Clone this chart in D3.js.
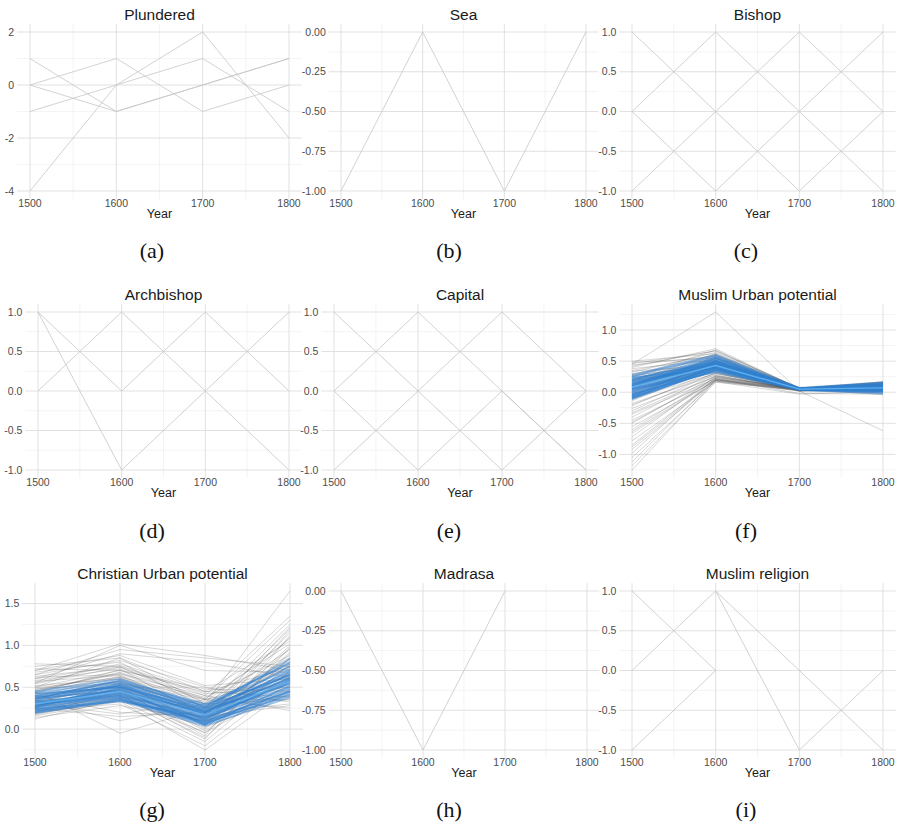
<!DOCTYPE html>
<head>
  <meta charset="utf-8">
  <style>
    body { margin: 0; background: #fff; }
    svg { font-family: "Liberation Sans", Arial, Helvetica, sans-serif; background: #fff; }
    .grid-major { stroke: #d9d9d9; stroke-width: 0.8px; }
    .grid-minor { stroke: #ededed; stroke-width: 0.6px; }
    .tick { fill: #4d4d4d; font-size: 10.5px; }
    .title { fill: #1a1a1a; font-size: 15.5px; }
    .xtitle { fill: #1a1a1a; font-size: 12.5px; }
    .caption { font-family: "Liberation Serif", "DejaVu Serif", serif; font-size: 22px; fill: #111; }
    .simple { fill: none; stroke: #c6c6c6; stroke-width: 0.8px; }
    .grey { fill: none; stroke: #404040; stroke-opacity: 0.36; stroke-width: 0.6px; }
    .blue { fill: none; stroke: #2f7fcf; stroke-opacity: 0.5; stroke-width: 1.8px; }
    .mean { fill: none; stroke: #62b3f0; stroke-opacity: 0.9; stroke-width: 1.4px; }
  </style>
</head>

<body>
  <svg width="901" height="831"></svg>
  <script src="https://d3js.org/d3.v7.min.js"></script>
  <script type="text/javascript">
  // x values shared by every panel
  const years = [1500, 1600, 1700, 1800];

  // one row per line, values at 1500,1600,1700,1800 (null = no value)
  const plundered = [
    [1, -1, 0, 1],
    [0, 1, -1, 0],
    [0, -1, 0, 1],
    [-1, 0, 1, -1],
    [-4, 0, 2, -2]
  ];
  const sea = [[-1, 0, -1, 0]];
  const bishop = [[1, 0, 1, 0], [0, 1, 0, -1], [0, -1, 0, 1], [-1, 0, -1, 0]];
  const archbishop = [[0, 1, 0, 1], [1, 0, 1, 0], [1, -1, 0, -1]];
  const capital = [[1, 0, 1, 0], [0, 1, 0, -1], [0, -1, 0, -1], [-1, 0, -1, 0]];
  const madrasa = [[0, -1, 0, null]];
  const muslimReligion = [[0, 1, 0, -1], [null, 1, -1, 0], [1, 0, null, null], [-1, 0, null, null]];

  const muslimUrbanGrey = [
    [0.50, 0.62, 0.06, 0.10], [0.48, 0.55, 0.05, 0.12], [0.46, 0.66, 0.07, 0.15],
    [0.44, 0.58, 0.04, 0.08], [0.40, 0.70, 0.06, 0.17], [0.38, 0.52, 0.05, 0.03],
    [0.35, 0.60, 0.03, 0.11], [0.32, 0.64, 0.07, 0.06], [0.30, 0.48, 0.04, 0.14],
    [0.28, 0.56, 0.06, -0.02], [0.26, 0.45, 0.02, 0.09], [0.24, 0.68, 0.05, 0.13],
    [0.22, 0.50, 0.08, 0.01], [0.20, 0.42, 0.03, 0.16], [0.18, 0.62, 0.06, 0.05],
    [0.15, 0.38, 0.04, 0.12], [0.12, 0.54, 0.05, -0.04], [0.10, 0.47, 0.07, 0.10],
    [0.08, 0.36, 0.02, 0.07], [0.05, 0.58, 0.06, 0.15], [0.02, 0.44, 0.04, 0.02],
    [0.00, 0.40, 0.05, 0.11], [-0.03, 0.33, 0.03, 0.06], [-0.06, 0.50, 0.06, 0.14],
    [-0.10, 0.30, 0.04, 0.00], [-0.14, 0.42, 0.05, 0.09], [-0.18, 0.28, 0.02, 0.12],
    [-0.22, 0.36, 0.06, 0.04], [-0.26, 0.25, 0.04, 0.17], [-0.30, 0.32, 0.05, 0.08],
    [-0.35, 0.22, -0.02, -0.03], [-0.40, 0.30, 0.06, 0.13], [-0.45, 0.20, 0.04, 0.05],
    [-0.50, 0.27, 0.05, 0.10], [-0.55, 0.18, 0.02, 0.02], [-0.60, 0.24, 0.06, 0.15],
    [-0.66, 0.20, 0.04, 0.07], [-0.72, 0.26, 0.05, 0.12], [-0.78, 0.17, -0.03, 0.01],
    [-0.85, 0.22, 0.05, 0.09], [-0.92, 0.19, 0.04, 0.14], [-0.98, 0.24, 0.06, 0.04],
    [-1.05, 0.18, 0.03, 0.11], [-1.12, 0.21, 0.05, 0.06], [-1.18, 0.16, 0.04, 0.13],
    [-1.25, 0.19, 0.02, 0.03], [0.45, 1.29, 0.02, -0.62],
    [0.27, 0.44, 0.05, 0.07], [0.17, 0.51, 0.06, 0.12], [0.06, 0.39, 0.04, 0.09],
    [-0.02, 0.47, 0.05, 0.04], [-0.08, 0.35, 0.03, 0.10], [0.13, 0.60, 0.07, 0.16],
    [0.21, 0.33, 0.04, 0.02], [-0.12, 0.55, 0.06, 0.08], [0.34, 0.43, 0.05, 0.13],
    [-0.20, 0.31, 0.03, 0.05], [-0.33, 0.26, 0.05, 0.10], [-0.48, 0.23, 0.04, 0.08],
    [-0.63, 0.21, 0.05, 0.12], [-0.88, 0.20, 0.03, 0.06], [0.42, 0.67, 0.06, 0.09]
  ];
  const muslimUrbanBlue = [
    [0.05, 0.45, 0.05, 0.06], [0.10, 0.50, 0.06, 0.10], [-0.05, 0.40, 0.04, 0.02],
    [0.20, 0.55, 0.05, 0.12], [-0.10, 0.38, 0.05, 0.04], [0.15, 0.48, 0.06, 0.08],
    [0.00, 0.42, 0.05, 0.05], [0.25, 0.58, 0.06, 0.14], [-0.08, 0.35, 0.04, 0.00],
    [0.08, 0.46, 0.05, 0.09], [0.12, 0.52, 0.06, 0.11], [-0.02, 0.44, 0.05, 0.03],
    [0.18, 0.40, 0.04, 0.07], [0.03, 0.36, 0.05, 0.13], [0.22, 0.47, 0.06, 0.06],
    [-0.06, 0.50, 0.05, 0.10], [0.28, 0.60, 0.07, 0.16], [0.06, 0.32, 0.04, -0.02],
    [0.14, 0.43, 0.05, 0.04], [-0.04, 0.39, 0.06, 0.08], [0.09, 0.54, 0.05, 0.12],
    [0.17, 0.45, 0.04, 0.01], [0.01, 0.48, 0.06, 0.09], [0.24, 0.37, 0.05, 0.05],
    [-0.09, 0.42, 0.05, 0.07], [0.11, 0.56, 0.06, 0.15], [0.04, 0.41, 0.04, 0.03],
    [0.19, 0.51, 0.05, 0.10], [-0.03, 0.34, 0.05, 0.06], [0.07, 0.49, 0.06, 0.11],
    [-0.11, 0.37, 0.05, 0.02], [-0.07, 0.41, 0.04, 0.05], [0.13, 0.46, 0.06, 0.09]
  ];
  const muslimUrbanMean = [[0.08, 0.43, 0.05, 0.07]];

  const christianUrbanGrey = [
    [0.75, 0.85, 0.30, 1.65], [0.70, 1.02, 0.88, 0.70], [0.65, 0.95, 0.85, 0.75],
    [0.60, 0.90, 0.80, 0.62], [0.55, 1.00, 0.70, 0.68], [0.78, 0.75, 0.40, 1.35],
    [0.72, 0.70, 0.35, 1.30], [0.68, 0.80, 0.25, 1.25], [0.62, 0.65, 0.20, 1.20],
    [0.58, 0.72, 0.15, 1.15], [0.52, 0.60, 0.10, 1.10], [0.50, 0.85, 0.45, 1.05],
    [0.48, 0.55, 0.05, 1.00], [0.45, 0.68, 0.30, 0.95], [0.42, 0.50, 0.00, 0.92],
    [0.40, 0.62, 0.38, 0.88], [0.38, 0.45, -0.05, 0.85], [0.36, 0.58, 0.22, 0.82],
    [0.34, 0.40, -0.10, 0.78], [0.32, 0.52, 0.28, 0.75], [0.30, 0.48, 0.12, 0.72],
    [0.28, 0.35, -0.15, 0.70], [0.26, 0.44, 0.18, 0.66], [0.24, 0.55, 0.35, 0.62],
    [0.22, 0.30, -0.20, 0.58], [0.20, 0.42, 0.08, 0.55], [0.18, 0.38, 0.25, 0.52],
    [0.16, 0.33, -0.25, 0.48], [0.14, 0.28, 0.10, 0.45], [0.12, 0.36, 0.02, 0.42],
    [0.45, -0.05, 0.25, 0.40], [0.35, 0.10, 0.30, 0.35], [0.25, 0.15, 0.20, 0.30],
    [0.40, 0.20, 0.15, 0.28], [0.30, 0.18, 0.35, 0.25], [0.55, 0.78, 0.45, 0.38],
    [0.65, 0.82, 0.50, 0.32], [0.50, 0.70, 0.48, 0.45], [0.60, 0.76, 0.42, 0.50],
    [0.46, 0.66, 0.40, 0.22], [0.36, 0.60, 0.36, 0.35], [0.70, 0.88, 0.52, 0.60],
    [0.28, 0.46, -0.08, 1.12], [0.33, 0.52, 0.06, 1.18], [0.44, 0.63, 0.16, 1.22],
    [0.21, 0.41, -0.12, 0.98], [0.54, 0.74, 0.32, 1.08], [0.39, 0.57, 0.04, 0.90],
    [0.19, 0.34, 0.14, 0.80], [0.47, 0.67, 0.26, 0.86], [0.27, 0.50, -0.02, 0.64],
    [0.57, 0.64, 0.20, 0.76], [0.23, 0.39, 0.08, 0.68], [0.31, 0.56, 0.30, 0.56],
    [0.43, 0.71, 0.44, 0.74], [0.37, 0.53, 0.10, 0.84], [0.29, 0.47, 0.21, 0.60],
    [0.49, 0.62, 0.12, 0.96], [0.17, 0.37, -0.04, 0.50], [0.63, 0.74, 0.36, 1.02]
  ];
  const christianUrbanBlue = [
    [0.25, 0.40, 0.15, 0.55], [0.30, 0.45, 0.20, 0.60], [0.35, 0.50, 0.25, 0.65],
    [0.20, 0.35, 0.10, 0.45], [0.40, 0.55, 0.28, 0.72], [0.28, 0.48, 0.18, 0.50],
    [0.33, 0.42, 0.12, 0.58], [0.22, 0.38, 0.08, 0.40], [0.38, 0.52, 0.22, 0.68],
    [0.26, 0.44, 0.16, 0.62], [0.31, 0.47, 0.05, 0.52], [0.36, 0.58, 0.30, 0.78],
    [0.24, 0.33, 0.14, 0.48], [0.42, 0.50, 0.20, 0.75], [0.29, 0.41, 0.11, 0.57],
    [0.34, 0.54, 0.26, 0.64], [0.21, 0.36, 0.06, 0.42], [0.37, 0.46, 0.19, 0.70],
    [0.27, 0.49, 0.23, 0.54], [0.32, 0.39, 0.09, 0.46], [0.45, 0.60, 0.27, 0.80],
    [0.23, 0.43, 0.13, 0.59], [0.39, 0.51, 0.17, 0.66], [0.30, 0.37, 0.07, 0.44],
    [0.26, 0.53, 0.21, 0.61], [0.19, 0.34, 0.04, 0.38], [0.43, 0.57, 0.24, 0.84]
  ];
  const christianUrbanMean = [[0.30, 0.45, 0.17, 0.57]];

  const titles = ["Plundered", "Sea", "Bishop", "Archbishop", "Capital",
    "Muslim Urban potential", "Christian Urban potential", "Madrasa", "Muslim religion"];
  const captions = ["(a)", "(b)", "(c)", "(d)", "(e)", "(f)", "(g)", "(h)", "(i)"];
  const yTicks = [
    [-4, -2, 0, 2],
    [-1, -0.75, -0.5, -0.25, 0],
    [-1, -0.5, 0, 0.5, 1],
    [-1, -0.5, 0, 0.5, 1],
    [-1, -0.5, 0, 0.5, 1],
    [-1, -0.5, 0, 0.5, 1],
    [0, 0.5, 1, 1.5],
    [-1, -0.75, -0.5, -0.25, 0],
    [-1, -0.5, 0, 0.5, 1]
  ];
  const yFormats = ["d", ".2f", ".1f", ".1f", ".1f", ".1f", ".1f", ".2f", ".1f"];

  // which series each panel draws, and how
  const layers = [
    [[plundered, "simple"]],
    [[sea, "simple"]],
    [[bishop, "simple"]],
    [[archbishop, "simple"]],
    [[capital, "simple"]],
    [[muslimUrbanGrey, "grey"], [muslimUrbanBlue, "blue"], [muslimUrbanMean, "mean"]],
    [[christianUrbanGrey, "grey"], [christianUrbanBlue, "blue"], [christianUrbanMean, "mean"]],
    [[madrasa, "simple"]],
    [[muslimReligion, "simple"]]
  ];

  // pixel box of the data range of each panel: [left, right, top, bottom]
  const boxes = [
    [30, 289, 32, 191], [341, 586, 32, 191], [632, 883, 32, 191],
    [38, 289, 312, 470], [334, 586, 312, 470], [632, 883, 312, 470],
    [35, 290, 591, 750], [341, 587, 591, 750], [632, 883, 591, 750]
  ];
  const captionX = [152, 449, 746];

  let svg = d3.select('svg');

  titles.forEach(function(title, i) {
    let b = boxes[i];
    let g = svg.append('g').classed('panel', true);

    let x = d3.scaleLinear().domain([1500, 1800]).range([b[0], b[1]]);
    let allValues = [];
    layers[i].forEach(function(l) {
      l[0].forEach(function(row) { row.forEach(function(v) { if (v != null) allValues.push(v); }); });
    });
    let ext = d3.extent(allValues);
    let y = d3.scaleLinear().domain(ext).range([b[3], b[2]]);
    let span = ext[1] - ext[0];
    let pLeft = x(1485), pRight = x(1815);
    let pTop = y(ext[1] + span * 0.05), pBottom = y(ext[0] - span * 0.05);

    // grid
    let ticks = yTicks[i];
    let step = ticks[1] - ticks[0];
    let minorY = [];
    for (let k = -1; k < ticks.length; k++) {
      let v = ticks[0] + step * k + step / 2;
      if (v >= y.invert(pBottom) && v <= y.invert(pTop)) minorY.push(v);
    }
    g.selectAll('.my').data(minorY).enter().append('line')
      .attr('class', 'grid-minor')
      .attr('x1', pLeft).attr('x2', pRight)
      .attr('y1', function(d) { return y(d); }).attr('y2', function(d) { return y(d); });
    g.selectAll('.mx').data([1550, 1650, 1750]).enter().append('line')
      .attr('class', 'grid-minor')
      .attr('y1', pTop).attr('y2', pBottom)
      .attr('x1', function(d) { return x(d); }).attr('x2', function(d) { return x(d); });
    g.selectAll('.gy').data(ticks).enter().append('line')
      .attr('class', 'grid-major')
      .attr('x1', pLeft).attr('x2', pRight)
      .attr('y1', function(d) { return y(d); }).attr('y2', function(d) { return y(d); });
    g.selectAll('.gx').data(years).enter().append('line')
      .attr('class', 'grid-major')
      .attr('y1', pTop).attr('y2', pBottom)
      .attr('x1', function(d) { return x(d); }).attr('x2', function(d) { return x(d); });

    // lines
    let line = d3.line()
      .defined(function(d) { return d != null; })
      .x(function(d, j) { return x(years[j]); })
      .y(function(d) { return y(d); });
    layers[i].forEach(function(l) {
      g.append('g').selectAll('path').data(l[0]).enter().append('path')
        .attr('class', l[1])
        .attr('d', line);
    });

    // axis labels
    let fmt = d3.format(yFormats[i]);
    g.selectAll('.yl').data(ticks).enter().append('text')
      .attr('class', 'tick')
      .attr('x', pLeft - 3)
      .attr('y', function(d) { return y(d); })
      .attr('dy', '0.35em')
      .attr('text-anchor', 'end')
      .text(function(d) { return fmt(d).replace('−', '-'); });
    g.selectAll('.xl').data(years).enter().append('text')
      .attr('class', 'tick')
      .attr('x', function(d) { return x(d); })
      .attr('y', b[3] + 16)
      .attr('text-anchor', 'middle')
      .text(function(d) { return d; });
    g.append('text').attr('class', 'xtitle')
      .attr('x', (pLeft + pRight) / 2).attr('y', b[3] + 27)
      .attr('text-anchor', 'middle').text('Year');
    g.append('text').attr('class', 'title')
      .attr('x', (pLeft + pRight) / 2).attr('y', b[2] - 12)
      .attr('text-anchor', 'middle').text(title);
    g.append('text').attr('class', 'caption')
      .attr('x', captionX[i % 3]).attr('y', b[2] + 226)
      .attr('text-anchor', 'middle').text(captions[i]);
  });
  </script>
</body>
